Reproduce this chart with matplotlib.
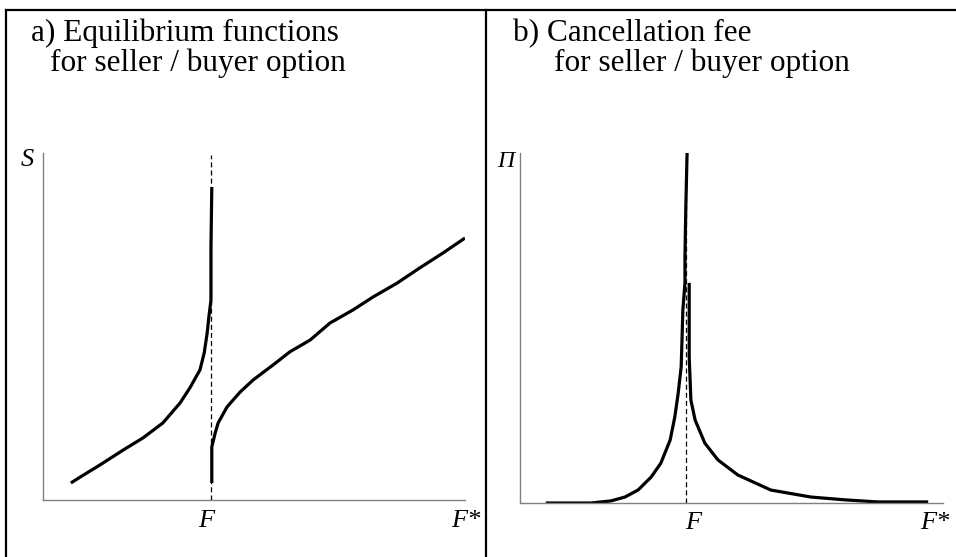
import matplotlib
matplotlib.use("Agg")
import matplotlib.pyplot as plt
from matplotlib.lines import Line2D

plt.rcParams['font.family'] = ['Liberation Serif', 'DejaVu Serif']

# ---- data (normalised axes: F* = 1.0) ----
# Panel a: equilibrium functions
a_F = 0.398
a_left_x = [0.066, 0.088, 0.135, 0.190, 0.237, 0.284, 0.325, 0.348, 0.372, 0.382,
            0.389, 0.393, 0.398, 0.398, 0.400]
a_left_y = [0.049, 0.066, 0.101, 0.144, 0.179, 0.222, 0.280, 0.323, 0.375, 0.424,
            0.481, 0.527, 0.576, 0.729, 0.902]
a_right_x = [0.400, 0.400, 0.408, 0.415, 0.436, 0.467, 0.498, 0.545, 0.585, 0.633,
             0.680, 0.735, 0.782, 0.839, 0.893, 0.948, 1.000]
a_right_y = [0.049, 0.153, 0.193, 0.222, 0.268, 0.311, 0.346, 0.389, 0.427, 0.461,
             0.510, 0.548, 0.585, 0.625, 0.669, 0.712, 0.755]

# Panel b: cancellation fee
b_F = 0.392
b_left_x = [0.061, 0.168, 0.215, 0.248, 0.279, 0.310, 0.333, 0.355, 0.366, 0.374,
            0.381, 0.383, 0.385, 0.390, 0.390, 0.392, 0.395]
b_left_y = [0.000, 0.000, 0.006, 0.017, 0.037, 0.074, 0.114, 0.180, 0.246, 0.314,
            0.389, 0.466, 0.551, 0.629, 0.703, 0.846, 1.000]
b_right_x = [0.400, 0.400, 0.404, 0.414, 0.437, 0.468, 0.515, 0.593, 0.688, 0.768,
             0.846, 0.965]
b_right_y = [0.629, 0.417, 0.294, 0.237, 0.171, 0.123, 0.080, 0.037, 0.017, 0.009,
             0.003, 0.003]

titles_line1 = ["a) Equilibrium functions", "b) Cancellation fee"]
titles_line2 = ["for seller / buyer option", "for seller / buyer option"]
ylabels = ["S", "Π"]
xlabel_F = "F"
xlabel_Fstar = "F*"

W, H = 956, 557
fig = plt.figure(figsize=(W / 100, H / 100), dpi=100)

def fx(px):
    return px / W

def fy(py):
    return 1 - py / H

# frame lines
for x0, y0, x1, y1 in [(6, 10, W, 10), (6, 10, 6, H), (486, 10, 486, H)]:
    fig.add_artist(Line2D([fx(x0), fx(x1)], [fy(y0), fy(y1)], color='black', lw=1.6))

axa = fig.add_axes([fx(43), fy(500), fx(465) - fx(43), fy(153) - fy(500)])
axb = fig.add_axes([fx(520), fy(503), fx(943) - fx(520), fy(153) - fy(503)])

for ax in (axa, axb):
    ax.set_xlim(0, 1)
    ax.set_ylim(0, 1)
    ax.set_xticks([])
    ax.set_yticks([])
    for s in ('top', 'right'):
        ax.spines[s].set_visible(False)
    for s in ('left', 'bottom'):
        ax.spines[s].set_color('#808080')
        ax.spines[s].set_linewidth(1.0)
    ax.patch.set_alpha(0)

lw = 2.3
# panel a
axa.plot([a_F, a_F], [0, 0.994], color='black', lw=0.9, ls=(0, (4, 2.5)))
axa.plot(a_left_x, a_left_y, color='black', lw=lw, solid_capstyle='butt')
axa.plot(a_right_x, a_right_y, color='black', lw=lw, solid_capstyle='butt')

# panel b
axb.plot([b_F, b_F], [0, 1.0], color='black', lw=0.9, ls=(0, (4, 2.5)))
axb.plot(b_left_x, b_left_y, color='black', lw=lw, solid_capstyle='butt')
axb.plot(b_right_x, b_right_y, color='black', lw=lw, solid_capstyle='butt')

fs = 19
fig.text(fx(206), fy(521), xlabel_F, ha='center', va='center', fontsize=fs, style='italic')
fig.text(fx(466), fy(521), xlabel_Fstar, ha='center', va='center', fontsize=fs, style='italic')
fig.text(fx(693), fy(523), xlabel_F, ha='center', va='center', fontsize=fs, style='italic')
fig.text(fx(935), fy(523), xlabel_Fstar, ha='center', va='center', fontsize=fs, style='italic')

fig.text(fx(27), fy(160), ylabels[0], ha='center', va='center', fontsize=fs, style='italic')
fig.text(fx(506), fy(162), ylabels[1], ha='center', va='center', fontsize=fs - 2, style='italic')

tfs = 22.5
fig.text(fx(31), fy(41), titles_line1[0], ha='left', va='baseline', fontsize=tfs)
fig.text(fx(50), fy(71), titles_line2[0], ha='left', va='baseline', fontsize=tfs)
fig.text(fx(513), fy(41), titles_line1[1], ha='left', va='baseline', fontsize=tfs)
fig.text(fx(554), fy(71), titles_line2[1], ha='left', va='baseline', fontsize=tfs)

fig.savefig("out.png", dpi=100, facecolor='white')
